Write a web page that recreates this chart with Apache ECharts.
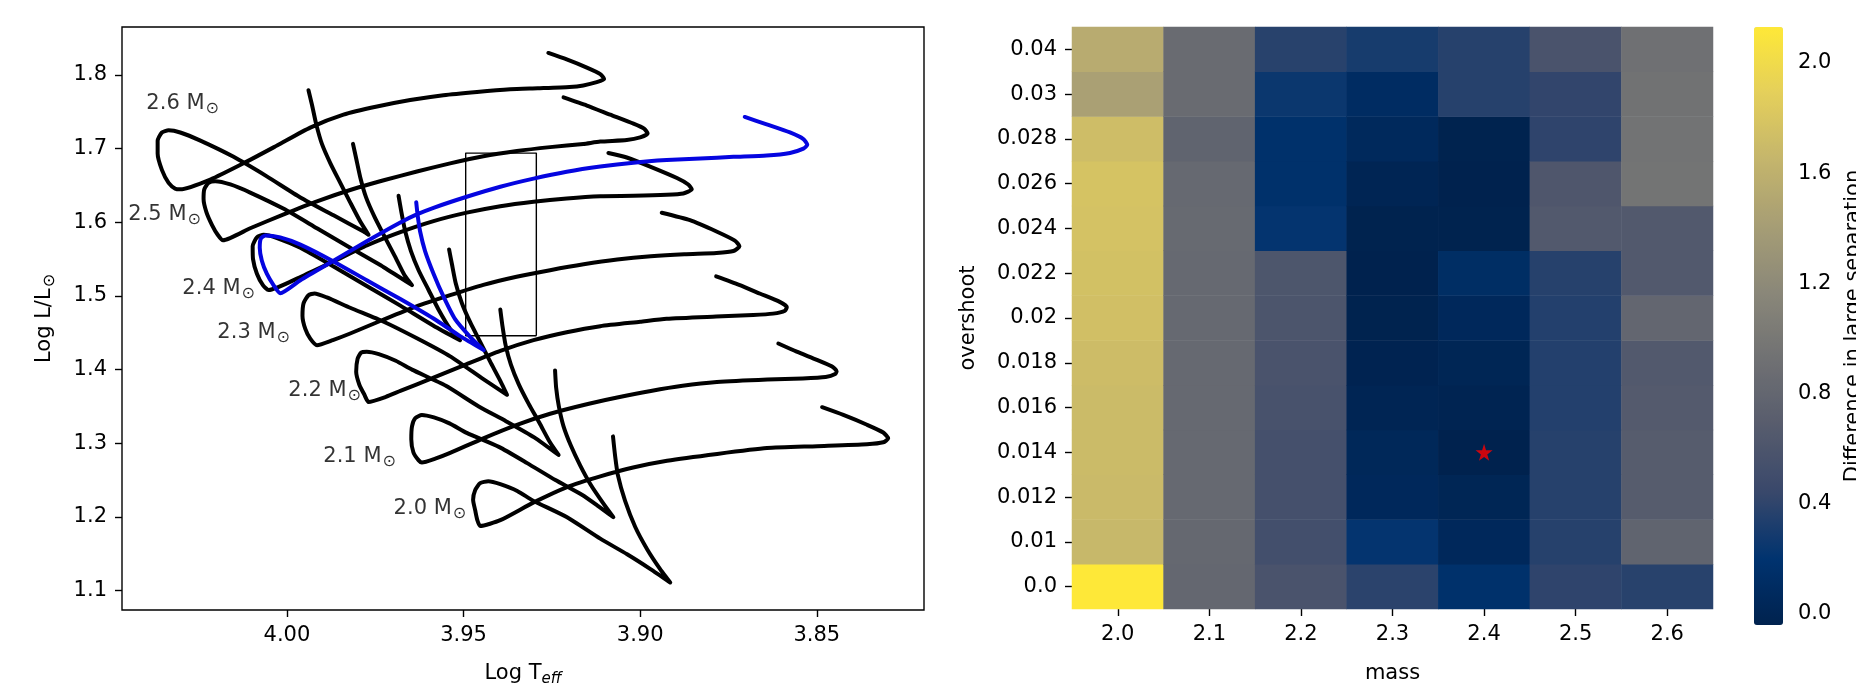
<!DOCTYPE html>
<html><head><meta charset="utf-8">
<script src="https://cdn.jsdelivr.net/npm/echarts@6/dist/echarts.min.js"></script>
<style>html,body{margin:0;padding:0;background:#fff}#c{width:1856px;height:692px}</style>
</head><body><div id="c"></div>
<script>
const FONT = 'DejaVu Sans';

// ---------- Left panel: evolutionary tracks [log Teff, log L/Lsun] ----------
const track26 = [[3.9939,1.7793],[3.9929,1.7594],[3.9917,1.7330],[3.9901,1.7065],[3.9877,1.6801],[3.9849,1.6536],[3.9821,1.6272],[3.9792,1.6007],[3.9769,1.5831],
 [3.9783,1.5875],[3.9868,1.6095],[3.9962,1.6338],[4.0057,1.6624],[4.0151,1.6889],[4.0245,1.7109],[4.0302,1.7220],[4.0335,1.7250],
 [4.0354,1.7220],[4.0366,1.7109],[4.0366,1.6933],[4.0354,1.6712],[4.0335,1.6536],[4.0316,1.6457],[4.0302,1.6448],
 [4.0217,1.6580],[4.0123,1.6801],[4.0028,1.7043],[3.9934,1.7286],[3.9840,1.7462],[3.9745,1.7572],[3.9651,1.7660],[3.9557,1.7727],[3.9462,1.7771],[3.9368,1.7806],[3.9290,1.7820],[3.9200,1.7838],[3.9161,1.7859],[3.9123,1.7903],[3.9102,1.7947],[3.9113,1.8013],[3.9151,1.8101],[3.9208,1.8212],[3.9260,1.8300]];
const track25 = [[3.9813,1.7065],[3.9804,1.6867],[3.9792,1.6602],[3.9776,1.6338],[3.9752,1.6073],[3.9724,1.5809],[3.9695,1.5544],[3.9667,1.5280],[3.9646,1.5147],
 [3.9726,1.5390],[3.9821,1.5654],[3.9915,1.5919],[4.0009,1.6183],[4.0104,1.6404],[4.0160,1.6514],[4.0203,1.6558],
 [4.0222,1.6536],[4.0234,1.6448],[4.0236,1.6316],[4.0228,1.6139],[4.0212,1.5963],[4.0196,1.5831],[4.0181,1.5756],
 [4.0104,1.5919],[4.0009,1.6108],[3.9915,1.6285],[3.9821,1.6439],[3.9726,1.6571],[3.9632,1.6690],[3.9538,1.6801],[3.9444,1.6898],[3.9349,1.6968],[3.9255,1.7021],[3.9161,1.7065],[3.9113,1.7096],[3.9038,1.7118],[3.9000,1.7153],[3.8979,1.7206],[3.8989,1.7272],[3.9019,1.7339],[3.9085,1.7462],[3.9151,1.7586],[3.9217,1.7696]];
const track24 = [[3.9684,1.6360],[3.9676,1.6139],[3.9665,1.5875],[3.9649,1.5610],[3.9627,1.5346],[3.9599,1.5081],[3.9571,1.4817],[3.9538,1.4552],[3.9510,1.4398],
 [3.9585,1.4596],[3.9679,1.4869],[3.9774,1.5134],[3.9868,1.5399],[3.9962,1.5654],[4.0028,1.5787],[4.0066,1.5831],
 [4.0085,1.5795],[4.0097,1.5676],[4.0096,1.5500],[4.0085,1.5302],[4.0068,1.5147],[4.0052,1.5081],
 [3.9962,1.5257],[3.9868,1.5469],[3.9774,1.5685],[3.9679,1.5866],[3.9585,1.6016],[3.9491,1.6131],[3.9396,1.6219],[3.9302,1.6280],[3.9208,1.6325],[3.9113,1.6355],[3.9019,1.6360],[3.8925,1.6373],[3.8878,1.6391],[3.8854,1.6448],[3.8864,1.6514],[3.8896,1.6602],[3.8972,1.6757],[3.9038,1.6880],[3.9090,1.6942]];
const track23 = [[3.9541,1.5632],[3.9533,1.5434],[3.9522,1.5169],[3.9505,1.4905],[3.9481,1.4640],[3.9453,1.4376],[3.9425,1.4111],[3.9396,1.3847],[3.9377,1.3657],
 [3.9444,1.3870],[3.9538,1.4180],[3.9632,1.4425],[3.9726,1.4650],[3.9821,1.4840],[3.9887,1.4980],[3.9922,1.5035],
 [3.9939,1.5010],[3.9953,1.4900],[3.9956,1.4728],[3.9948,1.4552],[3.9934,1.4420],[3.9915,1.4331],
 [3.9870,1.4400],[3.9821,1.4490],[3.9726,1.4680],[3.9635,1.4855],[3.9538,1.5010],[3.9444,1.5150],[3.9350,1.5260],[3.9255,1.5350],[3.9160,1.5430],[3.9065,1.5495],[3.8970,1.5540],[3.8875,1.5568],[3.8784,1.5584],[3.8736,1.5610],[3.8719,1.5676],[3.8732,1.5751],[3.8784,1.5875],[3.8859,1.6029],[3.8939,1.6130]];
const track22 = [[3.9396,1.4817],[3.9390,1.4596],[3.9381,1.4332],[3.9366,1.4067],[3.9344,1.3803],[3.9316,1.3538],[3.9285,1.3274],[3.9255,1.3009],[3.9231,1.2840],
 [3.9300,1.3080],[3.9380,1.3300],[3.9457,1.3500],[3.9550,1.3780],[3.9646,1.4000],[3.9692,1.4120],[3.9740,1.4210],[3.9774,1.4243],
 [3.9790,1.4230],[3.9800,1.4146],[3.9804,1.3970],[3.9795,1.3794],[3.9781,1.3661],[3.9769,1.3560],
 [3.9720,1.3630],[3.9679,1.3710],[3.9585,1.3890],[3.9491,1.4075],[3.9396,1.4255],[3.9302,1.4400],[3.9208,1.4508],[3.9113,1.4590],[3.9000,1.4650],[3.8925,1.4690],[3.8785,1.4720],[3.8680,1.4740],[3.8624,1.4760],[3.8590,1.4800],[3.8585,1.4850],[3.8605,1.4920],[3.8660,1.5030],[3.8720,1.5150],[3.8785,1.5266]];
const track21 = [[3.9241,1.3988],[3.9238,1.3758],[3.9230,1.3494],[3.9217,1.3230],[3.9196,1.2965],[3.9170,1.2700],[3.9140,1.2436],[3.9106,1.2193],[3.9076,1.1995],
 [3.9120,1.2150],[3.9165,1.2300],[3.9240,1.2500],[3.9320,1.2730],[3.9400,1.2950],[3.9491,1.3140],[3.9540,1.3270],[3.9584,1.3350],[3.9618,1.3384],
 [3.9637,1.3340],[3.9646,1.3230],[3.9648,1.3054],[3.9642,1.2877],[3.9627,1.2767],[3.9618,1.2737],
 [3.9580,1.2790],[3.9538,1.2868],[3.9444,1.3067],[3.9349,1.3250],[3.9255,1.3400],[3.9160,1.3520],[3.9065,1.3620],[3.8970,1.3710],[3.8880,1.3780],[3.8783,1.3830],[3.8640,1.3865],[3.8540,1.3880],[3.8475,1.3900],[3.8448,1.3940],[3.8444,1.3979],[3.8458,1.4045],[3.8500,1.4133],[3.8557,1.4243],[3.8609,1.4354]];
const track20 = [[3.9077,1.3093],[3.9071,1.2828],[3.9063,1.2563],[3.9043,1.2220],[3.9014,1.1862],[3.8980,1.1558],[3.8944,1.1294],[3.8915,1.1108],
 [3.8972,1.1294],[3.9037,1.1492],[3.9113,1.1704],[3.9207,1.1995],[3.9303,1.2220],[3.9348,1.2352],[3.9396,1.2444],[3.9430,1.2484],
 [3.9453,1.2458],[3.9467,1.2365],[3.9473,1.2233],[3.9467,1.2087],[3.9461,1.1955],[3.9453,1.1876],
 [3.9396,1.1955],[3.9303,1.2193],[3.9207,1.2405],[3.9113,1.2550],[3.9020,1.2670],[3.8924,1.2762],[3.8782,1.2855],[3.8641,1.2934],[3.8499,1.2960],[3.8358,1.2987],[3.8312,1.3013],[3.8298,1.3066],[3.8312,1.3146],[3.8358,1.3251],[3.8425,1.3384],[3.8485,1.3489]];
const trackBest = [[3.9634,1.6272],[3.9630,1.6095],[3.9623,1.5875],[3.9609,1.5610],[3.9585,1.5302],[3.9557,1.4993],[3.9524,1.4684],[3.9481,1.4442],[3.9443,1.4265],
 [3.9510,1.4455],[3.9585,1.4693],[3.9679,1.4958],[3.9774,1.5213],[3.9868,1.5469],[3.9962,1.5698],[4.0019,1.5795],[4.0061,1.5822],
 [4.0074,1.5778],[4.0077,1.5654],[4.0071,1.5478],[4.0057,1.5302],[4.0038,1.5147],[4.0019,1.5037],
 [3.9962,1.5213],[3.9868,1.5478],[3.9774,1.5743],[3.9679,1.5998],[3.9634,1.6104],[3.9585,1.6197],[3.9491,1.6347],[3.9396,1.6483],[3.9302,1.6593],[3.9208,1.6686],[3.9113,1.6757],[3.9019,1.6810],[3.8925,1.6845],[3.8830,1.6867],[3.8736,1.6889],[3.8642,1.6907],[3.8576,1.6942],[3.8538,1.7000],[3.8527,1.7052],[3.8538,1.7131],[3.8576,1.7220],[3.8642,1.7330],[3.8704,1.7431]];

const massLabels = ['2.6','2.5','2.4','2.3','2.2','2.1','2.0'];
const labelT = [4.0398,4.0449,4.0296,4.0197,3.9996,3.9897,3.9698];
const labelL = [1.761,1.6108,1.5103,1.4497,1.3714,1.2815,1.2114];
const boxT = [3.9294, 3.9494];
const boxL = [1.446, 1.694];
const teffTicks = [3.85, 3.90, 3.95, 4.00];
const lumTicks = [1.1, 1.2, 1.3, 1.4, 1.5, 1.6, 1.7, 1.8];

// ---------- Right panel: heatmap ----------
const masses = ['2.0','2.1','2.2','2.3','2.4','2.5','2.6'];
const overshoots = ['0.0','0.01','0.012','0.014','0.016','0.018','0.02','0.022','0.024','0.026','0.028','0.03','0.04'];
// values listed bottom (0.0) to top (0.04)
const diff20 = [2.13,1.674,1.694,1.704,1.704,1.715,1.745,1.756,1.766,1.776,1.725,1.437,1.55];
const diff21 = [0.812,0.822,0.832,0.832,0.832,0.832,0.832,0.832,0.842,0.832,0.771,0.853,0.853];
const diff22 = [0.576,0.524,0.535,0.535,0.565,0.576,0.596,0.606,0.216,0.175,0.175,0.247,0.37];
const diff23 = [0.381,0.216,0.052,0.042,0.001,-0.019,-0.03,-0.04,-0.03,0.001,0.063,0.104,0.299];
const diff24 = [0.175,0.052,0.011,-0.04,-0.009,0.011,0.052,0.124,-0.03,-0.04,-0.03,0.36,0.36];
const diff25 = [0.401,0.36,0.36,0.36,0.35,0.35,0.35,0.36,0.647,0.617,0.401,0.411,0.576];
const diff26 = [0.37,0.771,0.678,0.678,0.658,0.647,0.801,0.647,0.647,0.955,0.945,0.935,0.914];
const bestMass = '2.4';
const bestOvershoot = '0.014';
const cbMin = -0.04, cbMax = 2.13;
const cbTicks = [0.0, 0.4, 0.8, 1.2, 1.6, 2.0];
const cividis = ['#00224e','#00336f','#39486b','#575c6d','#707173','#8a8779','#a69d75','#c4b56c','#e4cf5b','#fee838'];

const cols = [diff20, diff21, diff22, diff23, diff24, diff25, diff26];
const heat = [];
cols.forEach((c, i) => c.forEach((v, j) => heat.push([i, j, v])));

const txt = {fontFamily: FONT, fontSize: 21, color: '#000'};
const richSun = {
  a: {fontFamily: FONT, fontSize: 21, color: '#000', lineHeight: 26, verticalAlign: 'middle'},
  s: {fontFamily: FONT, fontSize: 16, color: '#000', lineHeight: 18, verticalAlign: 'bottom', padding: [0,0,0,1]},
  e: {fontFamily: FONT, fontSize: 15, fontStyle: 'italic', color: '#000', lineHeight: 18, verticalAlign: 'bottom'}
};
const tickStyle = {show: true, length: 7, lineStyle: {color: '#000', width: 1.4}};

function trackSeries(d, color) {
  return {type: 'line', xAxisIndex: 0, yAxisIndex: 0, data: d, symbol: 'none', showSymbol: false,
    smooth: 0.2, silent: true, animation: false,
    lineStyle: {color: color, width: 4, cap: 'round', join: 'round'}};
}

const chart = echarts.init(document.getElementById('c'), null, {renderer: 'canvas'});
chart.setOption({
  animation: false,
  backgroundColor: '#fff',
  textStyle: {fontFamily: FONT},
  grid: [
    {left: 122, top: 27, width: 802, height: 598, show: true, borderColor: '#000', borderWidth: 1.4, backgroundColor: 'rgba(0,0,0,0)'},
    {left: 1072, top: 27, width: 641, height: 598},
    {left: 1754, top: 27, width: 29, height: 598}
  ],
  xAxis: [
    {gridIndex: 0, type: 'value', inverse: true, min: 3.81966, max: 4.04669,
     axisLine: {show: false}, splitLine: {show: false},
     axisTick: Object.assign({customValues: teffTicks}, tickStyle),
     axisLabel: Object.assign({customValues: teffTicks, formatter: v => v.toFixed(2), margin: 15}, txt),
     name: '{a|Log T}{e|eff}', nameLocation: 'middle', nameGap: 51,
     nameTextStyle: Object.assign({rich: richSun}, txt)},
    {gridIndex: 1, type: 'category', data: masses,
     axisLine: {show: false}, splitLine: {show: false},
     axisTick: Object.assign({alignWithLabel: true}, tickStyle),
     axisLabel: Object.assign({interval: 0, margin: 15}, txt),
     name: 'mass', nameLocation: 'middle', nameGap: 52,
     nameTextStyle: Object.assign({lineHeight: 26}, txt)},
    {gridIndex: 2, type: 'value', show: false, min: 0, max: 1}
  ],
  yAxis: [
    {gridIndex: 0, type: 'value', min: 1.07353, max: 1.86524,
     axisLine: {show: false}, splitLine: {show: false},
     axisTick: Object.assign({customValues: lumTicks}, tickStyle),
     axisLabel: Object.assign({customValues: lumTicks, formatter: v => v.toFixed(1), margin: 15}, txt),
     name: '{a|Log L/L}{s|⊙}', nameLocation: 'middle', nameGap: 64, nameRotate: 90,
     nameTextStyle: Object.assign({rich: richSun}, txt)},
    {gridIndex: 1, type: 'category', data: overshoots,
     axisLine: {show: false}, splitLine: {show: false},
     axisTick: Object.assign({alignWithLabel: true}, tickStyle),
     axisLabel: Object.assign({interval: 0, margin: 15}, txt),
     name: 'overshoot', nameLocation: 'middle', nameGap: 90, nameRotate: 90,
     nameTextStyle: Object.assign({lineHeight: 26}, txt)},
    {gridIndex: 2, type: 'value', position: 'right', min: cbMin, max: cbMax,
     axisLine: {show: false}, splitLine: {show: false},
     axisTick: Object.assign({customValues: cbTicks}, tickStyle),
     axisLabel: Object.assign({customValues: cbTicks, formatter: v => v.toFixed(1), margin: 15}, txt)}
  ],
  visualMap: {
    type: 'continuous', min: cbMin, max: cbMax, seriesIndex: 10, dimension: 2,
    orient: 'vertical', left: 1754, top: 27, itemWidth: 29, itemHeight: 598,
    calculable: false, hoverLink: false, padding: 0, text: null,
    inRange: {color: cividis}
  },
  graphic: [
    {type: 'text', x: 1854, y: 326, rotation: Math.PI / 2,
     style: {text: 'Difference in large separation', fontFamily: FONT, fontSize: 21, fill: '#000',
             align: 'center', verticalAlign: 'middle'}}
  ],
  series: [
    trackSeries(track26, '#000'),
    trackSeries(track25, '#000'),
    trackSeries(track24, '#000'),
    trackSeries(track23, '#000'),
    trackSeries(track22, '#000'),
    trackSeries(track21, '#000'),
    trackSeries(track20, '#000'),
    {type: 'line', xAxisIndex: 0, yAxisIndex: 0, symbol: 'none', silent: true,
     data: [[boxT[0], boxL[0]], [boxT[1], boxL[0]], [boxT[1], boxL[1]], [boxT[0], boxL[1]], [boxT[0], boxL[0]]],
     lineStyle: {color: '#000', width: 1.4}},
    trackSeries(trackBest, '#0505e0'),
    {type: 'scatter', xAxisIndex: 0, yAxisIndex: 0, symbolSize: 0, silent: true,
     data: labelT.map((t, i) => ({value: [t, labelL[i]], name: massLabels[i]})),
     label: {show: true, position: 'right', distance: 0, formatter: p => '{a|' + p.name + ' M}{s|⊙}', rich: richSun}},
    {type: 'heatmap', xAxisIndex: 1, yAxisIndex: 1, data: heat, silent: true,
     itemStyle: {borderWidth: 0}, emphasis: {disabled: true}},
    {type: 'scatter', xAxisIndex: 1, yAxisIndex: 1, silent: true,
     symbol: 'path://M50,0 L61,35 L98,35 L68,57 L79,91 L50,70 L21,91 L32,57 L2,35 L39,35 Z',
     symbolSize: 17, itemStyle: {color: '#ff0000'}, data: [[bestMass, bestOvershoot]]},
    {type: 'scatter', xAxisIndex: 2, yAxisIndex: 2, data: []}
  ]
});
</script>
</body></html>
